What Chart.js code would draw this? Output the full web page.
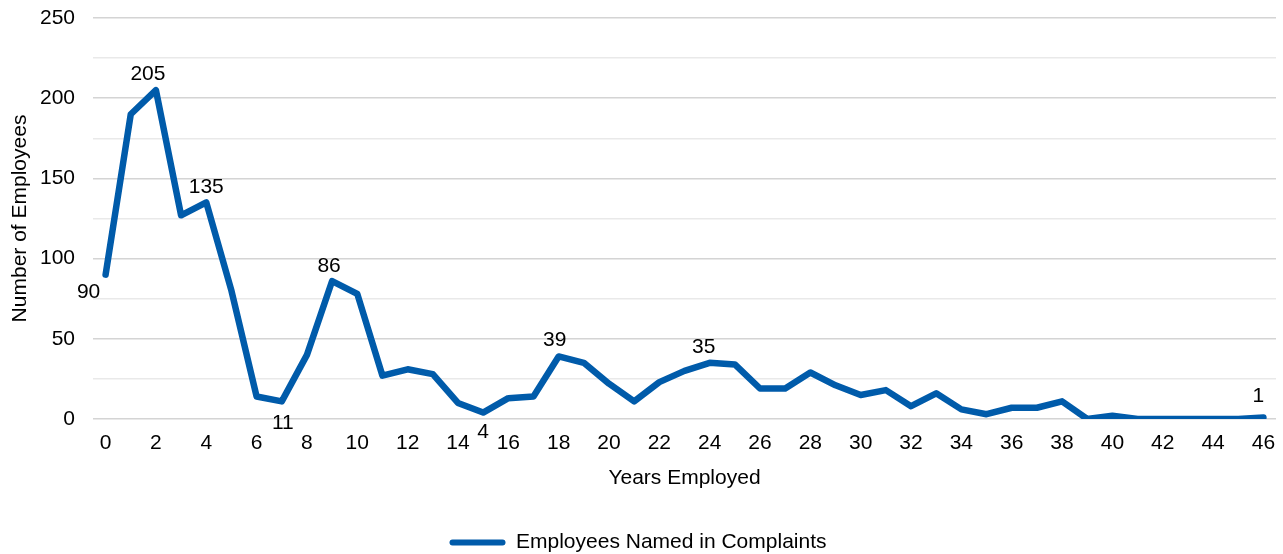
<!DOCTYPE html>
<html lang="en">
<head>
  <meta charset="UTF-8">
  <title>Employees Named in Complaints</title>
  <script src="https://cdn.jsdelivr.net/npm/chart.js"></script>
  <style>
    body { margin: 0; background: #fff; }
    #chart-container { width: 1283px; height: 554px; }
  </style>
</head>
<body>
  <div id="chart-container">
    <canvas id="yearsChart"></canvas>
  </div>

  <script>
    // years employed (x categories)
    const years = [0, 1, 2, 3, 4, 5, 6, 7, 8, 9, 10, 11, 12, 13, 14, 15, 16, 17, 18, 19, 20, 21, 22, 23,
                   24, 25, 26, 27, 28, 29, 30, 31, 32, 33, 34, 35, 36, 37, 38, 39, 40, 41, 42, 43, 44, 45, 46];
    // number of employees named in complaints
    const employees = [90, 190, 205, 127, 135, 80, 14, 11, 40, 86, 78, 27, 31, 28, 10, 4, 13, 14, 39, 35, 22, 11, 23, 30,
                       35, 34, 19, 19, 29, 21, 15, 18, 8, 16, 6, 3, 7, 7, 11, 0, 2, 0, 0, 0, 0, 0, 1];
    // points that carry a value label
    const labelledYears = [0, 2, 4, 7, 9, 15, 18, 24, 46];

    const seriesName = "Employees Named in Complaints";
    const blue = "#005BAA";
    const font = "'Liberation Sans', Arial, sans-serif";

    // label placement relative to the point
    const labelOffsets = {
      0: [-17, 18], 2: [-8, -16], 4: [0, -15], 7: [1, 22], 9: [-3, -15],
      15: [0, 20], 18: [-4, -16], 24: [-6, -16], 46: [-5, -21]
    };

    const pointLabels = {
      id: "pointLabels",
      afterDatasetsDraw(chart) {
        const ctx = chart.ctx;
        const pts = chart.getDatasetMeta(0).data;
        ctx.save();
        ctx.font = "21px " + font;
        ctx.fillStyle = "#000";
        ctx.textAlign = "center";
        ctx.textBaseline = "middle";
        labelledYears.forEach(i => {
          const off = labelOffsets[i] || [0, -16];
          ctx.fillText(String(employees[i]), pts[i].x + off[0], pts[i].y + off[1]);
        });
        ctx.restore();
      }
    };

    Chart.defaults.font.family = font;
    Chart.defaults.font.size = 21;
    Chart.defaults.color = "#000";

    const ctx = document.getElementById("yearsChart").getContext("2d");
    new Chart(ctx, {
      type: "line",
      data: {
        labels: years,
        datasets: [{
          label: seriesName,
          data: employees,
          borderColor: blue,
          backgroundColor: blue,
          borderWidth: 6.5,
          borderJoinStyle: "round",
          borderCapStyle: "round",
          pointRadius: 0,
          tension: 0,
          fill: false
        }]
      },
      options: {
        responsive: true,
        maintainAspectRatio: false,
        animation: false,
        layout: { padding: { top: 18, right: 7, left: 0, bottom: -9 } },
        plugins: {
          tooltip: { enabled: false },
          legend: {
            position: "bottom",
            labels: {
              padding: 0,
              boxWidth: 56,
              boxHeight: 6,
              useBorderRadius: true,
              borderRadius: 3,
              generateLabels: () => [{
                text: seriesName,
                fillStyle: blue,
                strokeStyle: blue,
                lineWidth: 0,
                borderRadius: 3,
                datasetIndex: 0
              }]
            }
          }
        },
        scales: {
          x: {
            offset: true,
            grid: { display: false },
            border: { display: false },
            ticks: {
              autoSkip: false,
              maxRotation: 0,
              padding: 4,
              callback: (v, i) => (i % 2 === 0 ? years[i] : "")
            },
            title: { display: true, text: "Years Employed", padding: { top: 0, bottom: 41 } },
            afterFit: s => { s.height = 113; }
          },
          y: {
            min: 0,
            max: 250,
            ticks: {
              stepSize: 25,
              padding: 18,
              callback: v => (v % 50 === 0 ? v : "")
            },
            grid: {
              drawTicks: false,
              lineWidth: 1.5,
              color: c => (c.tick && c.tick.value % 50 === 0 ? "#d4d4d4" : "#e9e9e9")
            },
            border: { display: false },
            title: { display: true, text: "Number of Employees", padding: { top: 8, bottom: 0 } },
            afterFit: s => { s.width = 93; s.paddingTop = 0; s.paddingBottom = 0; }
          }
        }
      },
      plugins: [pointLabels]
    });
  </script>
</body>
</html>
